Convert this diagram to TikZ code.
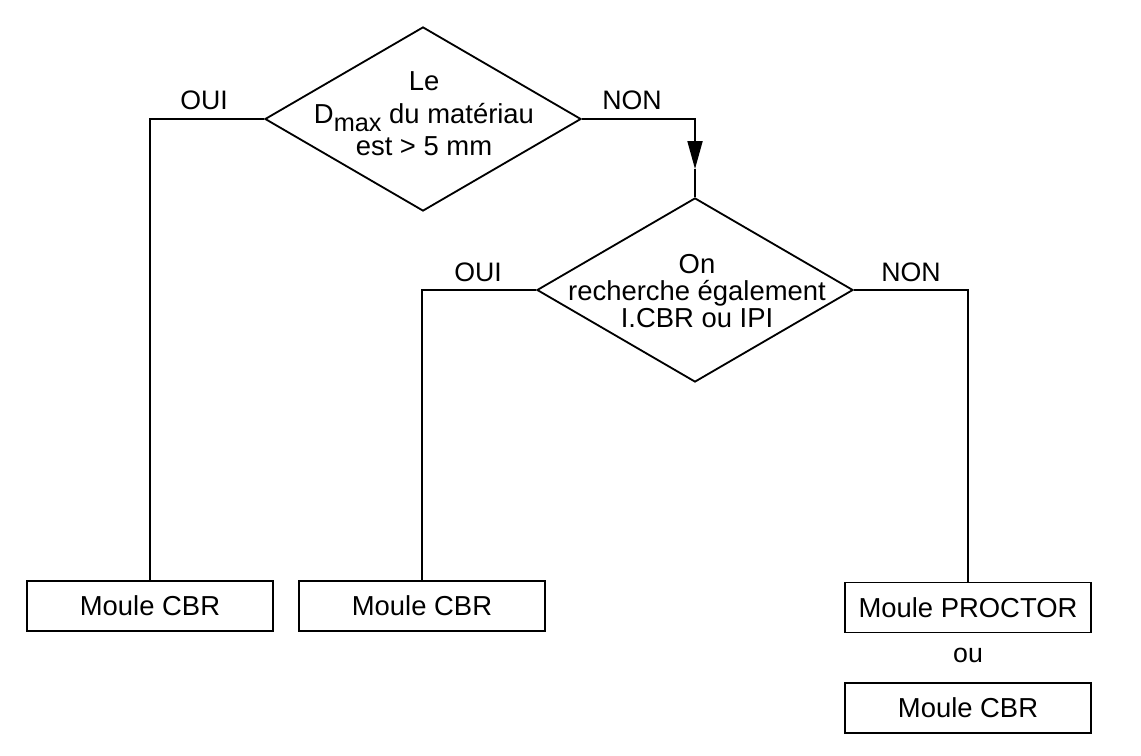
\documentclass[tikz,border=0pt]{standalone}
\usepackage{fontspec}
\setmainfont{Liberation Sans}
\usetikzlibrary{positioning, arrows.meta, shapes.geometric}

\begin{document}
\begin{tikzpicture}[x=0.025cm, y=-0.025cm, line width=1.3pt,
	test/.style={draw, diamond, inner sep=0pt, minimum width=7.9cm, minimum height=4.6cm},
	moule/.style={draw, rectangle, inner sep=0pt, minimum width=6.15cm, minimum height=1.25cm, font=\fontsize{19.5}{22}\selectfont},
	rep/.style={font=\fontsize{19}{22}\selectfont}]
	\useasboundingbox (0,0) rectangle (1141,755);
	\node[test] (d1) at (423,119) {};
	\node[test] (d2) at (695,290) {};
	\node[align=center, font=\fontsize{19.5}{23}\selectfont] (q1) at (424,114) {Le\\ D\raisebox{-.3em}{\fontsize{18}{18}\selectfont max} du matériau\\ est > 5 mm};
	\node[align=center, font=\fontsize{19.5}{19.5}\selectfont] (q2) at (697,291) {On\\ recherche également\\ I.CBR ou IPI};
	\node[moule] (m1) at (150,606) {Moule CBR};
	\node[moule] (m2) at (422,606) {Moule CBR};
	\node[moule] (m3) at (968,607.5) {Moule PROCTOR};
	\node[rep] (ou) at (968,655) {ou};
	\node[moule] (m4) at (968,708) {Moule CBR};
	\node[rep] (oui1) at (204,100) {OUI};
	\node[rep] (non1) at (632,100) {NON};
	\node[rep] (oui2) at (478,272) {OUI};
	\node[rep] (non2) at (911,272) {NON};
	\coordinate[above=0.7cm of d2.north] (tip);
	\draw (d1.west) -| (m1.north);
	\draw[-{Triangle[length=0.7cm, width=0.375cm]}] (d1.east) -| (tip);
	\draw (tip) -- (d2.north);
	\draw (d2.west) -| (m2.north);
	\draw (d2.east) -| (m3.north);
\end{tikzpicture}
\end{document}
